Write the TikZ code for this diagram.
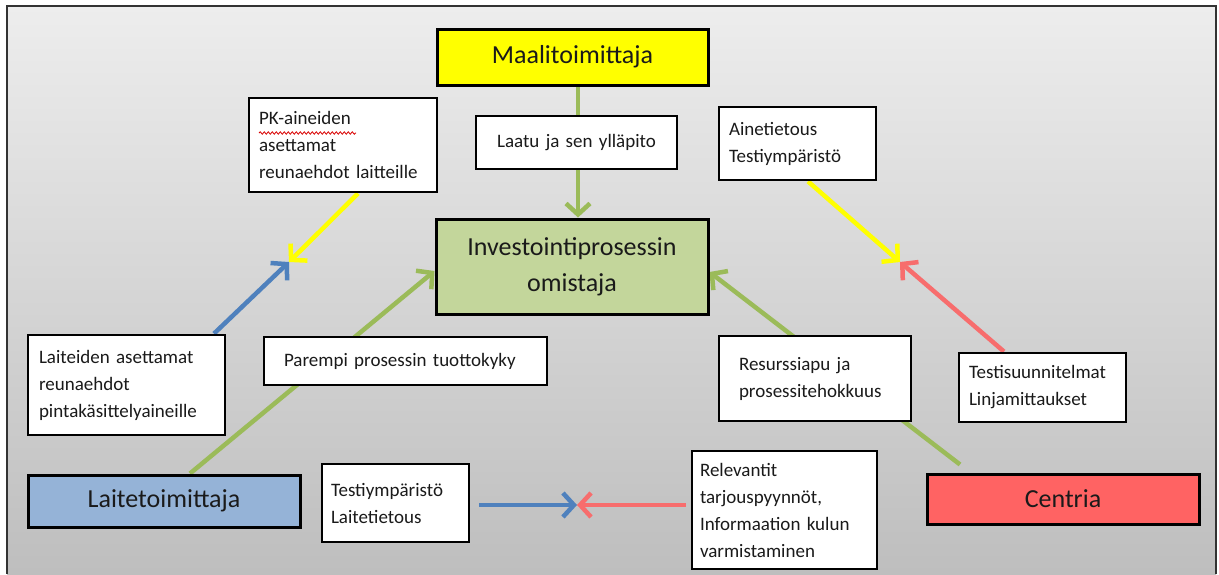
\documentclass[tikz,border=0pt]{standalone}
\usepackage{fontspec}
\setmainfont{Carlito}
\usetikzlibrary{arrows.meta,calc,decorations.pathmorphing}
\pgfdeclarelayer{back}
\pgfdeclarelayer{conn}
\pgfsetlayers{back,conn,main}
\definecolor{bgtop}{HTML}{EDEDED}
\definecolor{bgbot}{HTML}{BEBEBE}
\definecolor{ybox}{HTML}{FFFF00}
\definecolor{gbox}{HTML}{C3D69B}
\definecolor{bbox}{HTML}{95B3D7}
\definecolor{rbox}{HTML}{FF6363}
\definecolor{gline}{HTML}{9BBB59}
\definecolor{bline}{HTML}{4F81BD}
\definecolor{rline}{HTML}{F76D6D}
\definecolor{yline}{HTML}{FFFF00}
\definecolor{txt}{HTML}{1A1A1A}
\begin{document}
\begin{tikzpicture}[x=1pt,y=-1pt,
  mainbox/.style={draw=black, line width=3pt, text=txt, font=\fontsize{26}{36}\selectfont, align=center, inner sep=0pt},
  notebox/.style={draw=black, line width=2.8pt, fill=white, text=txt, font=\fontsize{19}{27}\selectfont, align=left, inner ysep=0pt},
  link/.style={line width=4.5pt, -{Straight Barb[length=11pt,width=24pt]}},
  plainlink/.style={line width=4.5pt}
]
\useasboundingbox (0,0) rectangle (1219,574);
\begin{pgfonlayer}{back}
  \shade[top color=bgtop, bottom color=bgbot] (7,6) rectangle (1216,574);
  \draw[line width=1.5pt, black!80] (7,574) -- (7,6) -- (1216,6) -- (1216,574);
\end{pgfonlayer}

% main boxes
\node[mainbox, fill=ybox, minimum width=271pt, minimum height=56pt] (maal) at (572.5,57) {Maalitoimittaja};
\node[mainbox, fill=gbox, minimum width=272pt, minimum height=95pt] (inv) at (572,266.5) {Investointiprosessin\\omistaja};
\node[mainbox, fill=bbox, minimum width=272pt, minimum height=52pt] (lai) at (164,501) {Laitetoimittaja};
\node[mainbox, fill=rbox, minimum width=272pt, minimum height=50pt] (cen) at (1063,499) {Centria};

% note boxes
\node[notebox, inner xsep=10pt, text width=168pt, minimum height=94pt] (pk) at (343,145) {PK-aineiden\\asettamat\\reunaehdot laitteille};
\node[notebox, inner xsep=10pt, text width=137pt, minimum height=73pt] (ain) at (797.5,143.5) {Ainetietous\\Testiympäristö};
\node[notebox, align=center, inner xsep=10pt, text width=181pt, minimum height=53pt] (laatu) at (576.5,142.5) {Laatu ja sen ylläpito};
\node[notebox, inner xsep=11pt, text width=175pt, minimum height=100pt] (lreu) at (126.5,385) {Laiteiden asettamat\\reunaehdot\\pintakäsittelyaineille};
\node[notebox, inner xsep=20pt, text width=243pt, minimum height=48pt] (par) at (405.5,361) {Parempi prosessin tuottokyky};
\node[notebox, inner xsep=20pt, text width=152pt, minimum height=85pt] (res) at (815,378.5) {Resurssiapu ja\\prosessitehokkuus};
\node[notebox, inner xsep=10pt, text width=147pt, minimum height=69pt] (tsu) at (1042.5,387.5) {Testisuunnitelmat\\Linjamittaukset};
\node[notebox, inner xsep=9pt, text width=129pt, minimum height=78pt] (tym) at (395.5,503) {Testiympäristö\\Laitetietous};
\node[notebox, inner xsep=8pt, text width=169pt, minimum height=118pt] (rel) at (784.5,510) {Relevantit\\tarjouspyynnöt,\\Informaation kulun\\varmistaminen};

% spelling underline
\draw[red!85!black, line width=0.8pt, decorate, decoration={snake, amplitude=1.2pt, segment length=4pt}] (259,133) -- (356,133);

% meeting points
\coordinate (m1) at (289,262);
\coordinate (m2) at (900,262);
\coordinate (m3) at (577,505);

\begin{pgfonlayer}{conn}
  \draw[link, gline] ([shift={(5.5,0)}]maal.south) -- ([shift={(6,0)}]inv.north);
  \draw[link, gline] ([shift={(26,0)}]lai.north) -- ([shift={(0,4.5)}]inv.west);
  \draw[link, gline] ([shift={(-103,-8)}]cen.north) -- ([shift={(0,5.5)}]inv.east);
  \draw[link, yline] ([shift={(15,0)}]pk.south) -- (m1);
  \draw[link, bline] ([shift={(87.5,0)}]lreu.north) -- (m1);
  \draw[link, yline] ([shift={(10.5,0)}]ain.south) -- (m2);
  \draw[link, rline] ([shift={(-38.5,0)}]tsu.north) -- (m2);
  \draw[link, bline] ([shift={(9,2)}]tym.east) -- (m3);
  \draw[link, rline] ([shift={(-5,-5)}]rel.west) -- (m3);
\end{pgfonlayer}
\end{tikzpicture}
\end{document}
